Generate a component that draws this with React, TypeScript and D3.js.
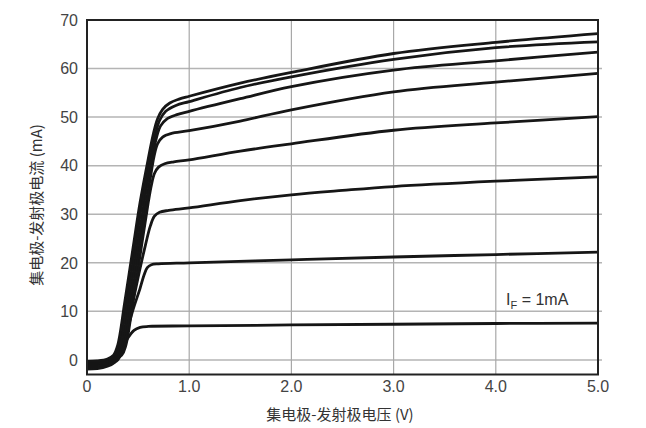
import React from "react";
import * as d3 from "d3";

const xTicks = [0, 1, 2, 3, 4, 5];
const xTickLabels = ["0", "1.0", "2.0", "3.0", "4.0", "5.0"];
const yTicks = [0, 10, 20, 30, 40, 50, 60, 70];
const yTickLabels = ["0", "10", "20", "30", "40", "50", "60", "70"];
const xTitle = "集电极-发射极电压 (V)";
const yTitle = "集电极-发射极电流 (mA)";

// [V_CE (V), I_C (mA)]
const curve1: [number, number][] = [[0,-1.9],[0.1,-1.8],[0.2,-1.3],[0.27,-0.5],[0.31,0.7],[0.4,4.5],[0.46,6.1],[0.52,6.7],[0.6,6.9],[1,7.0],[2,7.2],[3,7.35],[4,7.5],[5,7.6]];
const curve2: [number, number][] = [[0,-1.6],[0.1,-1.5],[0.2,-1.0],[0.3,0],[0.35,2.5],[0.4,6.5],[0.45,10.3],[0.52,14.8],[0.56,17.6],[0.59,19.0],[0.63,19.6],[0.7,19.8],[1,20],[2,20.6],[3,21.2],[4,21.7],[5,22.2]];
const curve3: [number, number][] = [[0,-1.3],[0.1,-1.2],[0.2,-0.8],[0.3,0.3],[0.35,2.5],[0.42,9],[0.5,17],[0.57,23.5],[0.62,27.6],[0.66,29.6],[0.71,30.4],[0.8,30.8],[1,31.3],[1.5,32.8],[2,34],[2.5,34.9],[3,35.7],[4,36.8],[5,37.7]];
const curve4: [number, number][] = [[0,-1.1],[0.1,-1.0],[0.2,-0.6],[0.34,1],[0.38,3],[0.45,12],[0.53,23],[0.6,32.5],[0.63,36],[0.66,38.4],[0.7,39.7],[0.76,40.4],[0.85,40.8],[1,41.2],[1.5,43],[2,44.5],[3,47.3],[4,48.8],[5,50.1]];
const curve5: [number, number][] = [[0,-0.9],[0.1,-0.8],[0.2,-0.4],[0.32,1],[0.36,3],[0.43,12],[0.51,23],[0.58,32.5],[0.62,37.5],[0.655,41.8],[0.69,44.5],[0.74,45.9],[0.82,46.6],[1,47.2],[1.5,49.2],[2,51.5],[3,55.2],[4,57.2],[5,59]];
const curve6: [number, number][] = [[0,-0.7],[0.1,-0.6],[0.2,-0.2],[0.3,1],[0.34,3],[0.41,12],[0.49,23],[0.56,32.5],[0.63,41],[0.68,45.8],[0.72,48.2],[0.78,49.6],[0.88,50.5],[1,51.2],[1.5,53.8],[2,56.3],[3,59.7],[4,61.6],[5,63.4]];
const curve7: [number, number][] = [[0,-0.5],[0.1,-0.4],[0.2,0],[0.28,1],[0.32,3],[0.39,12],[0.47,23],[0.54,32.5],[0.62,41.5],[0.67,46.5],[0.71,49.3],[0.77,51.2],[0.87,52.4],[1,53.2],[1.5,56.1],[2,58.3],[3,61.9],[4,64.3],[5,65.5]];
const curve8: [number, number][] = [[0,-0.3],[0.1,-0.2],[0.2,0.2],[0.26,1],[0.3,3],[0.37,12],[0.45,23],[0.52,32.5],[0.6,41.5],[0.65,46.6],[0.69,49.6],[0.74,51.6],[0.81,52.9],[0.9,53.7],[1,54.3],[1.5,57],[2,59.2],[3,63.1],[4,65.4],[5,67.2]];
const curves = [curve1, curve2, curve3, curve4, curve5, curve6, curve7, curve8];

const W = 646;
const H = 428;
const left = 87, right = 598, top = 20, bottom = 374.5;

export default function App() {
  const x = d3.scaleLinear().domain([0, 5]).range([left, right]);
  const y = d3.scaleLinear().domain([-3, 70]).range([bottom, top]);
  const line = d3
    .line<[number, number]>()
    .x((d) => x(d[0]))
    .y((d) => y(d[1]))
    .curve(d3.curveCatmullRom.alpha(0.5));
  const numFont = "'Liberation Sans', Arial, sans-serif";
  const cjkFont = "'Noto Sans CJK SC', 'Liberation Sans', sans-serif";
  return (
    <svg
      width={W}
      height={H}
      style={{ position: "absolute", left: 0, top: 0, display: "block", background: "#fff" }}
    >
      <defs>
        <clipPath id="plot">
          <rect x={left} y={top} width={right - left} height={bottom - top} />
        </clipPath>
      </defs>
      {yTicks.slice(0, -1).map((t) => (
        <line key={"gy" + t} x1={left} x2={right + 4} y1={y(t)} y2={y(t)} stroke="#b4b4b4" strokeWidth={1.5} />
      ))}
      {xTicks.slice(1, -1).map((t) => (
        <line key={"gx" + t} x1={x(t)} x2={x(t)} y1={top} y2={bottom} stroke="#a8a8a8" strokeWidth={1.2} />
      ))}
      <g clipPath="url(#plot)">
        {curves.map((c, i) => (
          <path key={i} d={line(c) || ""} fill="none" stroke="#161616" strokeWidth={2.8} strokeLinejoin="round" strokeLinecap="round" />
        ))}
      </g>
      <rect x={left} y={top} width={right - left} height={bottom - top} fill="none" stroke="#222" strokeWidth={2} />
      {xTicks.map((t, i) => (
        <text key={"xt" + t} x={x(t)} y={392} textAnchor="middle" fontFamily={numFont} fontSize={16} fill="#444">
          {xTickLabels[i]}
        </text>
      ))}
      {yTicks.map((t, i) => (
        <text key={"yt" + t} x={78} y={y(t)} dy="0.36em" textAnchor="end" fontFamily={numFont} fontSize={16} fill="#444">
          {yTickLabels[i]}
        </text>
      ))}
      <text x={340} y={420} textAnchor="middle" fontFamily={cjkFont} fontSize={15} fill="#333">
        {xTitle}
      </text>
      <text
        transform={`translate(35,205) rotate(-90)`}
        textAnchor="middle"
        dominantBaseline="central"
        fontFamily={cjkFont}
        fontSize={15}
        fill="#333"
      >
        {yTitle}
      </text>
      <text x={506} y={305} fontFamily={numFont} fontSize={16} fill="#333">
        I<tspan fontSize={11} dy={4}>F</tspan>
        <tspan dy={-4}> = 1mA</tspan>
      </text>
    </svg>
  );
}
